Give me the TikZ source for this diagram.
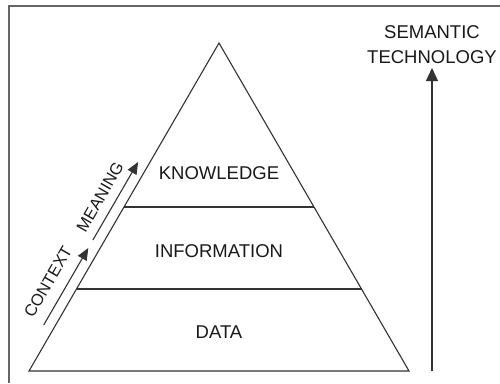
\documentclass[tikz,border=0pt]{standalone}
\usepackage{fontspec}
\setmainfont{Liberation Sans}
\usetikzlibrary{arrows.meta,calc}
\begin{document}
\begin{tikzpicture}[x=1pt,y=-1pt,
  edge/.style={line width=1.1pt, draw=black!80},
  frame/.style={line width=1.6pt, draw=black!60},
  lbl/.style={font=\fontsize{18.5}{21}\selectfont, text=black!90, inner sep=0pt},
  slbl/.style={font=\fontsize{16.5}{18}\selectfont, text=black!90, inner sep=0pt, rotate=60},
  arr/.style={line width=1.1pt, draw=black!80, -{Triangle[length=12pt,width=10pt]}},
  varr/.style={line width=1.1pt, draw=black!80, -{Triangle[length=13pt,width=12pt]}}]
\useasboundingbox (0,0) rectangle (500,383);
% frame (top and left edges)
\coordinate (f1) at (9,383);
\coordinate (f2) at (9,6);
\coordinate (f3) at (500,6);
\draw[frame] (f1) -- (f2) -- (f3);
% pyramid
\coordinate (A) at (219,43);
\coordinate (BL) at (29,371);
\coordinate (BR) at (409,371);
\draw[edge] (A) -- (BL) -- (BR) -- cycle;
\coordinate (k1) at ($(A)!0.5!(BL)$);
\coordinate (k2) at ($(A)!0.5!(BR)$);
\coordinate (d1) at ($(A)!0.75!(BL)$);
\coordinate (d2) at ($(A)!0.75!(BR)$);
\draw[edge] (k1) -- (k2);
\draw[edge] (d1) -- (d2);
\node[lbl] (know) at (219,173) {KNOWLEDGE};
\node[lbl] (info) at (219,251) {INFORMATION};
\node[lbl] (data) at (219,332) {DATA};
% left arrows
\coordinate (c0) at (43.7,325);
\coordinate (c1) at (88.3,248);
\coordinate (m0) at (92.9,240);
\coordinate (m1) at (138.1,162);
\draw[arr] (c0) -- (c1);
\draw[arr] (m0) -- (m1);
\node[slbl] (ctx) at (48,282) {CONTEXT};
\node[slbl] (mean) at (100,197) {MEANING};
% semantic technology
\node[lbl] (sem) at (432,32) {SEMANTIC};
\node[lbl] (tech) at (432,57) {TECHNOLOGY};
\coordinate (s0) at (432,371);
\coordinate (s1) at (432,68);
\draw[varr] (s0) -- (s1);
\end{tikzpicture}
\end{document}
